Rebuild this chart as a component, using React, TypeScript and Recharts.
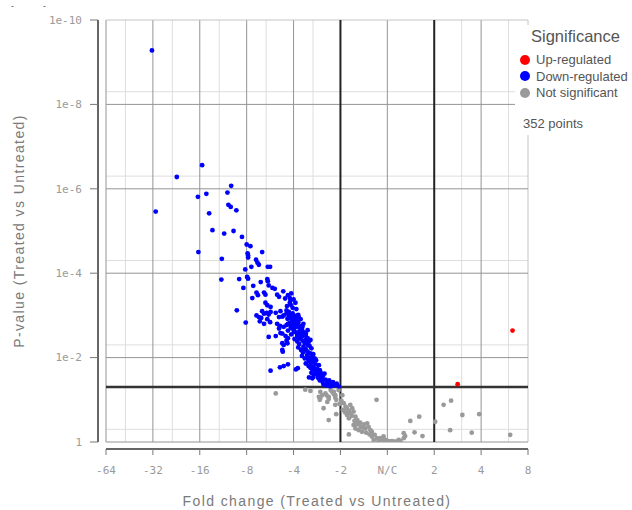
import React from 'react';
import { ScatterChart, Scatter, XAxis, YAxis, ReferenceLine, Legend } from 'recharts';

// [log2 fold change, -log10 p-value]
const upRegulated: [number, number][] = [
  [1.50, 1.37], [2.67, 2.64],
];

const downRegulated: [number, number][] = [
  [-5.02, 9.28], [-3.95, 6.56], [-4.49, 6.28], [-3.33, 6.07], [-3.41, 5.91], [-3.86, 5.88],
  [-4.04, 5.81], [-3.39, 5.62], [-3.34, 5.57], [-3.22, 5.49], [-4.94, 5.46], [-3.80, 5.42],
  [-3.73, 5.02], [-3.28, 5.00], [-3.48, 4.94], [-3.10, 4.86], [-3.00, 4.68], [-2.92, 4.64],
  [-4.03, 4.50], [-2.67, 4.50], [-2.98, 4.47], [-2.97, 4.42], [-2.97, 4.37], [-3.53, 4.34],
  [-2.80, 4.32], [-2.77, 4.25], [-2.74, 4.20],
  [-3.03, 4.09], [-2.90, 4.15], [-2.55, 4.15], [-2.50, 4.15],
  [-3.54, 3.85], [-3.16, 3.86], [-2.99, 3.91], [-2.97, 3.87],
  [-3.07, 3.65], [-2.86, 3.70], [-2.70, 3.79], [-2.56, 3.86], [-2.55, 3.81], [-2.53, 3.71],
  [-2.45, 3.65], [-2.40, 3.63], [-2.63, 3.54], [-2.60, 3.49], [-2.79, 3.54], [-2.76, 3.48], [-2.88, 3.41],
  [-2.35, 3.49], [-2.31, 3.44], [-2.22, 3.57],
  [-2.08, 3.41], [-2.06, 3.36], [-2.08, 3.30],
  [-2.60, 3.30], [-2.56, 3.24], [-2.49, 3.20], [-3.21, 3.12],
  [-2.67, 3.10], [-2.63, 3.04], [-2.57, 3.06], [-2.53, 3.02], [-2.49, 3.08],
  [-2.79, 3.00], [-2.74, 2.96], [-2.69, 2.94],
  [-2.38, 3.06], [-2.28, 3.10], [-2.31, 2.96], [-2.21, 3.00],
  [-2.15, 3.12], [-2.10, 3.08], [-2.06, 3.01], [-2.08, 2.94], [-2.13, 2.92], [-2.03, 2.88],
  [-1.99, 2.84], [-1.96, 2.91], [-1.92, 3.00], [-1.89, 2.96],
  [-3.02, 2.83], [-2.72, 2.86], [-2.63, 2.80], [-2.56, 2.91], [-2.50, 2.84], [-2.35, 2.80], [-2.29, 2.75],
  [-2.21, 2.73], [-2.15, 2.77], [-2.12, 2.80], [-2.06, 2.75], [-1.99, 2.70], [-1.92, 2.78], [-1.85, 2.75], [-1.79, 2.80],
  [-2.53, 2.49], [-2.38, 2.51], [-2.24, 2.57], [-2.17, 2.51], [-2.12, 2.46],
  [-1.99, 2.61], [-1.92, 2.54], [-1.89, 2.45], [-1.81, 2.51], [-1.74, 2.57], [-1.70, 2.65],
  [-2.49, 1.69], [-2.29, 1.77], [-2.21, 1.80], [-2.12, 1.84], [-1.95, 1.72], [-1.91, 1.75],
  [-2.15, 2.40], [-2.21, 2.30], [-2.24, 2.18],
  [-2.04, 2.81], [-1.95, 2.83], [-1.90, 3.01], [-1.85, 2.91], [-1.81, 2.73],
  [-2.06, 3.25], [-2.24, 2.97], [-2.31, 2.69], [-2.28, 2.58], [-2.13, 2.34], [-2.23, 2.14], [-2.24, 2.34],
  [-1.67, 1.53], [-1.60, 1.51],
  [-2.18, 3.40], [-2.12, 3.48], [-2.05, 3.52], [-2.00, 3.38], [-1.96, 3.30], [-2.14, 3.22], [-2.02, 3.18], [-1.94, 3.15],
  [-1.74, 2.42], [-1.70, 2.46], [-1.67, 2.38], [-1.64, 2.42],
  [-2.15, 3.05], [-2.02, 3.05], [-1.97, 2.98],
  [-2.00, 2.66], [-1.95, 2.60], [-1.88, 2.62], [-1.84, 2.55], [-2.05, 2.55], [-1.78, 2.60],
  [-1.98, 2.44], [-1.92, 2.38], [-1.86, 2.46], [-1.81, 2.40], [-1.76, 2.34], [-1.72, 2.44], [-1.88, 2.32], [-1.68, 2.38],
  [-1.90, 2.24], [-1.84, 2.18], [-1.79, 2.26], [-1.74, 2.20], [-1.70, 2.14], [-1.66, 2.28], [-1.62, 2.22], [-1.80, 2.12],
  [-1.82, 2.04], [-1.76, 1.98], [-1.71, 2.06], [-1.66, 2.00], [-1.62, 1.94], [-1.58, 2.08], [-1.55, 1.98], [-1.68, 1.92],
  [-1.74, 1.86], [-1.68, 1.80], [-1.63, 1.86], [-1.58, 1.78], [-1.53, 1.84], [-1.50, 1.74], [-1.46, 1.82], [-1.60, 1.72],
  [-1.62, 1.64], [-1.56, 1.60], [-1.51, 1.66], [-1.46, 1.58], [-1.42, 1.64], [-1.38, 1.56], [-1.48, 1.52], [-1.34, 1.62],
  [-1.44, 1.46], [-1.38, 1.42], [-1.32, 1.48], [-1.28, 1.40], [-1.24, 1.46], [-1.20, 1.38], [-1.16, 1.42], [-1.12, 1.35],
  [-1.08, 1.38], [-1.04, 1.32], [-1.30, 1.34], [-1.22, 1.32],
  [-2.10, 2.98], [-2.04, 2.92], [-1.98, 2.96], [-1.94, 2.86], [-2.08, 2.82], [-2.00, 2.78], [-1.95, 2.72], [-1.90, 2.84],
  [-1.86, 2.70], [-2.12, 2.64], [-2.06, 2.70], [-1.82, 2.66], [-1.92, 2.50], [-1.74, 2.52], [-1.70, 2.30], [-1.78, 2.16],
  [-1.64, 2.10], [-1.60, 2.02], [-1.70, 1.98], [-1.56, 1.90], [-1.52, 1.94], [-1.64, 1.76], [-1.54, 1.70], [-1.44, 1.70],
  [-1.40, 1.50], [-1.36, 1.36], [-1.26, 1.36], [-1.18, 1.33], [-1.50, 1.62], [-1.58, 1.54],
];

const notSignificant: [number, number][] = [
  [-2.38, 1.15], [-1.64, 1.21], [-1.75, 1.24], [-1.44, 1.00],
  [-1.46, 1.07], [-1.32, 1.15], [-1.25, 1.07], [-1.14, 1.19], [-1.11, 1.11], [-1.04, 1.23], [-0.96, 1.11],
  [-1.43, 1.19], [-1.39, 1.11], [-1.43, 1.04], [-1.29, 1.10], [-1.25, 1.02], [-1.28, 0.95], [-1.21, 1.23],
  [-1.18, 1.19], [-1.14, 1.13], [-1.11, 1.05], [-1.09, 1.00],
  [-1.36, 0.80], [-1.25, 0.52], [-1.11, 0.88], [-1.09, 0.66],
  [-0.93, 0.92], [-0.89, 0.84], [-0.86, 0.80], [-0.82, 0.73], [-0.79, 0.68], [-0.86, 0.64], [-0.82, 0.56],
  [-0.79, 0.88], [-0.75, 0.80], [-0.72, 0.72], [-0.68, 0.60], [-0.64, 0.52], [-0.61, 0.44],
  [-0.82, 0.18], [-0.72, 0.40], [-0.68, 0.32], [-0.61, 0.28], [-0.57, 0.36], [-0.54, 0.24], [-0.50, 0.42],
  [-0.47, 0.32], [-0.43, 0.44], [-0.40, 0.36], [-0.36, 0.28], [-0.33, 0.24],
  [-0.23, 1.00],
  [-0.33, 0.13], [-0.29, 0.05], [-0.22, 0.09], [-0.19, 0.01], [-0.11, 0.05], [-0.08, 0.13], [-0.15, 0.09],
  [-0.04, 0.05], [0.02, 0.02], [0.06, 0.01], [0.10, 0.02], [0.13, 0.01], [0.17, 0.01], [0.21, 0.01], [0.28, 0.02],
  [0.24, 0.05], [0.35, 0.09], [0.38, 0.14], [0.35, 0.21], [0.58, 0.23], [0.75, 0.14], [0.49, 0.50], [0.68, 0.60],
  [1.02, 0.48], [1.34, 0.28], [1.80, 0.22], [1.20, 0.88], [1.36, 0.98], [1.60, 0.64], [1.96, 0.66], [2.62, 0.17],
  [-0.98, 0.98], [-1.02, 0.90], [-0.95, 0.76], [-0.90, 0.70], [-0.76, 0.62], [-0.70, 0.50], [-0.65, 0.42],
  [-0.58, 0.46], [-0.52, 0.34], [-0.45, 0.22], [-0.38, 0.18], [-0.27, 0.17],
];

const xTickValues = [-6, -5, -4, -3, -2, -1, 0, 1, 2, 3];
const xTickLabels = ['-64', '-32', '-16', '-8', '-4', '-2', 'N/C', '2', '4', '8'];
const yTickValues = [0, 2, 4, 6, 8, 10];
const yTickLabels = ['1', '1e-2', '1e-4', '1e-6', '1e-8', '1e-10'];
const xMinorLines = [-5.585, -4.585, -3.585, -2.585, -1.585, 1.585, 2.585];
const yMinorLines = [0.301, 2.301, 4.301, 6.301, 8.301];
const foldChangeThreshold = 1; // log2(2)
const pValueThreshold = 0.05;
const totalPoints = 352;
const legendOrder = ['Up-regulated', 'Down-regulated', 'Not significant'];

const toPoints = (arr: [number, number][]) => arr.map(([x, y]) => ({ x, y }));

const MONO = '"DejaVu Sans Mono", "Liberation Mono", monospace';
const SANS = '"Liberation Sans", Arial, sans-serif';

const XTick = (props: any) => {
  const { x, y, payload } = props;
  const i = xTickValues.indexOf(payload.value);
  return (
    <g>
      <line x1={x} x2={x} y1={y + 7} y2={y + 13} stroke="#777" strokeWidth={1} />
      <text x={x} y={y + 32} textAnchor="middle" fill="#9a9a9a" fontSize={11} fontFamily={MONO}>
        {xTickLabels[i]}
      </text>
    </g>
  );
};

const YTick = (props: any) => {
  const { x, y, payload } = props;
  const i = yTickValues.indexOf(payload.value);
  return (
    <g>
      <line x1={x - 16} x2={x - 8} y1={y} y2={y} stroke="#777" strokeWidth={1} />
      <text x={x - 24} y={y} dy="0.35em" textAnchor="end" fill="#9a9a9a" fontSize={11} fontFamily={MONO}>
        {yTickLabels[i]}
      </text>
    </g>
  );
};

const XTitle = (props: any) => {
  const vb = props.viewBox || {};
  return (
    <text x={vb.x + vb.width / 2} y={vb.y + 64} textAnchor="middle" fill="#7a7a7a" fontSize={14} letterSpacing={1.4} fontFamily={SANS}>
      Fold change (Treated vs Untreated)
    </text>
  );
};

const YTitle = (props: any) => {
  const vb = props.viewBox || {};
  const cx = vb.x - 22;
  const cy = vb.y + vb.height / 2;
  return (
    <text x={cx} y={cy} transform={`rotate(-90, ${cx}, ${cy})`} textAnchor="middle" fill="#7a7a7a" fontSize={14} letterSpacing={1.4} fontFamily={SANS}>
      P-value (Treated vs Untreated)
    </text>
  );
};

const LegendContent = (props: any) => {
  const payload: any[] = props.payload || [];
  const items = legendOrder.map((n) => payload.find((p) => p.value === n)).filter(Boolean);
  return (
    <div style={{ position: 'relative', width: 117, height: 110, background: '#fff', fontFamily: SANS, color: '#555' }}>
      <div style={{ position: 'absolute', left: 16, top: 2, fontSize: 16.5, lineHeight: '18px', whiteSpace: 'nowrap' }}>Significance</div>
      {items.map((it: any, i: number) => (
        <div key={it.value} style={{ position: 'absolute', left: 5, top: 26.5 + i * 16.7, height: 16, display: 'flex', alignItems: 'center', fontSize: 13, whiteSpace: 'nowrap' }}>
          <span style={{ width: 10, height: 10, borderRadius: 5, background: it.color, marginRight: 6, display: 'inline-block' }} />
          {it.value}
        </div>
      ))}
      <div style={{ position: 'absolute', left: 8, top: 91, fontSize: 13, lineHeight: '16px', whiteSpace: 'nowrap' }}>{totalPoints} points</div>
    </div>
  );
};

const dot = (color: string) => (props: any) => <circle cx={props.cx} cy={props.cy} r={2.4} fill={color} />;

export default function App() {
  const majorX = xTickValues.filter((v) => Math.abs(v) !== foldChangeThreshold);
  const pLine = -Math.log10(pValueThreshold);
  return (
    <div style={{ position: 'absolute', left: 0, top: 0, width: 632, height: 510, background: '#fff' }}>
      <div style={{ position: 'absolute', left: 11, top: 1, fontSize: 9, lineHeight: '10px', color: '#555', fontFamily: SANS }}>-</div>
      <div style={{ position: 'absolute', left: 43, top: 1, fontSize: 9, lineHeight: '10px', color: '#555', fontFamily: SANS }}>-</div>
      <ScatterChart width={632} height={510} margin={{ top: 20, right: 104, bottom: 28, left: 46 }}>
        <XAxis
          type="number"
          dataKey="x"
          domain={[xTickValues[0], xTickValues[xTickValues.length - 1]]}
          ticks={xTickValues}
          interval={0}
          allowDataOverflow
          height={40}
          axisLine={false}
          tickLine={false}
          tickSize={0}
          tickMargin={0}
          tick={<XTick />}
          label={{ content: <XTitle /> }}
        />
        <YAxis
          type="number"
          dataKey="y"
          domain={[yTickValues[0], yTickValues[yTickValues.length - 1]]}
          ticks={yTickValues}
          interval={0}
          allowDataOverflow
          width={60}
          axisLine={false}
          tickLine={false}
          tickSize={0}
          tickMargin={0}
          tick={<YTick />}
          label={{ content: <YTitle /> }}
        />
        {xMinorLines.map((v) => (
          <ReferenceLine key={'xm' + v} x={v} stroke="#dedede" strokeWidth={1} />
        ))}
        {yMinorLines.map((v) => (
          <ReferenceLine key={'ym' + v} y={v} stroke="#dedede" strokeWidth={1} />
        ))}
        {majorX.map((v) => (
          <ReferenceLine key={'xM' + v} x={v} stroke={v === xTickValues[xTickValues.length - 1] ? '#c4c4c4' : '#949494'} strokeWidth={1} />
        ))}
        {yTickValues.map((v) => (
          <ReferenceLine key={'yM' + v} y={v} stroke={v === yTickValues[yTickValues.length - 1] ? '#c4c4c4' : '#949494'} strokeWidth={1} />
        ))}
        <ReferenceLine x={-foldChangeThreshold} stroke="#222" strokeWidth={2} />
        <ReferenceLine x={foldChangeThreshold} stroke="#222" strokeWidth={2} />
        <ReferenceLine y={pLine} stroke="#333" strokeWidth={2.5} />
        <ReferenceLine
          x={xTickValues[0]}
          stroke="#666"
          shape={(p: any) => <line x1={p.x1 - 8} x2={p.x2 - 8} y1={p.y1} y2={p.y2} stroke="#666" strokeWidth={2} />}
        />
        <ReferenceLine
          y={yTickValues[0]}
          stroke="#666"
          shape={(p: any) => <line x1={p.x1} x2={p.x2} y1={p.y1 + 7} y2={p.y2 + 7} stroke="#666" strokeWidth={2} />}
        />
        <Scatter name="Not significant" data={toPoints(notSignificant)} fill="#9a9a9a" shape={dot('#9a9a9a')} isAnimationActive={false} />
        <Scatter name="Down-regulated" data={toPoints(downRegulated)} fill="#0000ff" shape={dot('#0000ff')} isAnimationActive={false} />
        <Scatter name="Up-regulated" data={toPoints(upRegulated)} fill="#ff0000" shape={dot('#ff0000')} isAnimationActive={false} />
        <Legend
          layout="vertical"
          align="center"
          verticalAlign="middle"
          content={<LegendContent />}
          wrapperStyle={{ left: 515, top: 25, width: 117, height: 110 }}
        />
      </ScatterChart>
    </div>
  );
}
